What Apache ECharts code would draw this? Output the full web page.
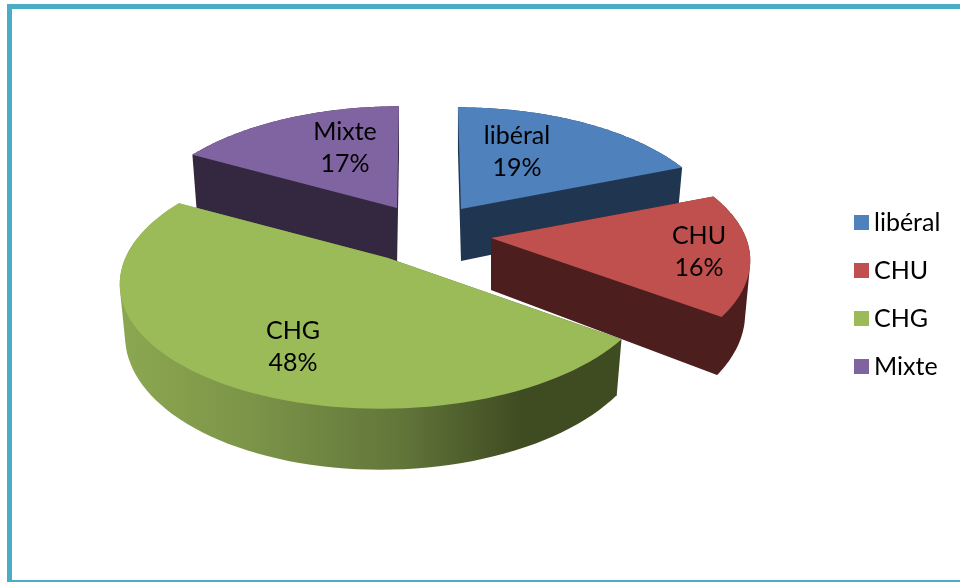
<!DOCTYPE html>
<html>
<head>
<meta charset="utf-8">
<style>
  html, body { margin: 0; padding: 0; background: #fff; }
  #chart { width: 960px; height: 582px; }
</style>
<script src="https://cdn.jsdelivr.net/npm/echarts@6/dist/echarts.min.js"></script>
</head>
<body>
<div id="chart"></div>
<script>
// data
const categories = ['libéral', 'CHU', 'CHG', 'Mixte'];
const shares = [19, 16, 48, 17];

// look of each slice
const topColors = ['#4f81bd', '#c0504d', '#9bbb59', '#8064a2'];
const wallStops = [
  [[0, '#1f3550']],
  [[0, '#4d1e1e']],
  [[0, '#8ba650'], [0.25, '#7b9448'], [0.55, '#62763a'], [0.8, '#3f4b21'], [1, '#3f4b21']],
  [[0, '#332840']]
];
const apexes = [[461, 209], [491, 238], [388, 258], [397, 208]];
const sliceScale = [1, 1, 1.03, 1];
const sliceSkew = [20, 0, -35, -13];
const sliceDepth = [52, 52, 50, 58];
const labelPos = [[517, 152], [699, 252], [293, 347], [345, 148]];
const drawZ = [2, 3, 4, 2];

// pie projection: perspective on a tilted disc
const radiusX = 255, radiusY = 120, persp = 0.18, bottomShrink = 0.98;
const total = shares.reduce((a, b) => a + b, 0);

function project(i, angle, bottom) {
  const apex = apexes[i];
  const c = Math.cos(angle), s = Math.sin(angle);
  const k = 1 / (1 + persp * c);
  const rx = radiusX * sliceScale[i], ry = radiusY * sliceScale[i];
  const skew = (k - 1) * sliceSkew[i];
  if (bottom) {
    return [apex[0] + rx * s * k * bottomShrink + skew, apex[1] - ry * c * k + sliceDepth[i] * k];
  }
  return [apex[0] + rx * s * k + skew, apex[1] - ry * c * k];
}

function arc(i, a0, a1, bottom) {
  const pts = [];
  const n = 80;
  for (let j = 0; j <= n; j++) {
    pts.push(project(i, a0 + (a1 - a0) * j / n, bottom));
  }
  return pts;
}

// a slice under 50% is a convex prism, its outline is the hull of its corners
function hull(points) {
  const pts = points.slice().sort((a, b) => a[0] - b[0] || a[1] - b[1]);
  const cross = (o, a, b) => (a[0] - o[0]) * (b[1] - o[1]) - (a[1] - o[1]) * (b[0] - o[0]);
  const half = list => {
    const out = [];
    list.forEach(p => {
      while (out.length >= 2 && cross(out[out.length - 2], out[out.length - 1], p) <= 0) out.pop();
      out.push(p);
    });
    out.pop();
    return out;
  };
  return half(pts).concat(half(pts.slice().reverse()));
}

function wallFill(i) {
  const stops = wallStops[i].map(s => ({ offset: s[0], color: s[1] }));
  if (stops.length === 1) return stops[0].color;
  return new echarts.graphic.LinearGradient(130, 0, 620, 0, stops, true);
}

function renderSlice(params, api) {
  const i = params.seriesIndex;
  const a0 = api.value(1) / total * Math.PI * 2;
  const a1 = (api.value(1) + api.value(0)) / total * Math.PI * 2;
  const apex = apexes[i];
  const apexLow = [apex[0], apex[1] + sliceDepth[i]];
  const topArc = arc(i, a0, a1, false);
  const lowArc = arc(i, a0, a1, true);
  const children = [
    { type: 'polygon', shape: { points: hull([apex, apexLow].concat(topArc, lowArc)) }, style: { fill: wallFill(i) } },
    { type: 'polygon', shape: { points: [apex].concat(topArc) }, style: { fill: topColors[i] } },
    {
      type: 'text',
      style: {
        text: categories[i] + '\n' + Math.round(api.value(0)) + '%',
        x: labelPos[i][0], y: labelPos[i][1],
        align: 'center', verticalAlign: 'middle',
        font: '25px Lato', lineHeight: 32, fill: '#000'
      }
    }
  ];
  return { type: 'group', children: children };
}

let running = 0;
const series = categories.map((name, i) => {
  const start = running;
  running += shares[i];
  return {
    type: 'custom',
    name: name,
    z: drawZ[i],
    coordinateSystem: 'none',
    silent: true,
    itemStyle: { color: topColors[i] },
    renderItem: renderSlice,
    data: [[shares[i], start]]
  };
});

const chart = echarts.init(document.getElementById('chart'));
chart.setOption({
  animation: false,
  backgroundColor: '#fff',
  legend: {
    data: categories,
    orient: 'vertical',
    left: 849,
    top: 205,
    itemWidth: 15,
    itemHeight: 15,
    itemGap: 23,
    icon: 'rect',
    textStyle: { fontFamily: 'Lato', fontSize: 25, lineHeight: 20, color: '#000' },
    selectedMode: false
  },
  graphic: [{
    type: 'rect',
    silent: true,
    shape: { x: 9.5, y: 6.5, width: 1000, height: 576 },
    style: { fill: 'none', stroke: '#4bacc6', lineWidth: 5 }
  }],
  series: series
});
</script>
</body>
</html>
